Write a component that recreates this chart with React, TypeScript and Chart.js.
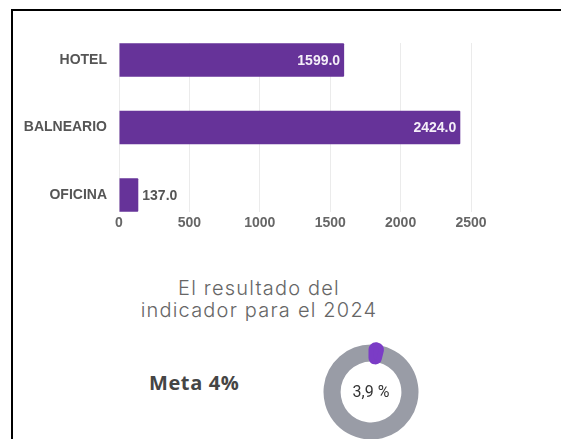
import React, { useEffect, useRef } from "react";
import { Chart, registerables } from "chart.js";

Chart.register(...registerables);

// ---- data ----
const categories = ["HOTEL", "BALNEARIO", "OFICINA"];
const values = [1599.0, 2424.0, 137.0];
const xTickValues = [0, 500, 1000, 1500, 2000, 2500];
const donutLabels = ["Resultado 2024", "Restante"];
const donutValues = [3.9, 96.1];
const resultLabel = "3,9 %";
const goalLabel = "Meta 4%";
const titleLines = ["El resultado del", "indicador para el 2024"];

const BAR_COLOR = "#663399";
const DOT_COLOR = "#7b3cc6";
const RING_COLOR = "#999ca6";
const LABEL_FONT = "'Liberation Sans', Arial, sans-serif";

const valueLabelPlugin = {
  id: "valueLabels",
  afterDatasetsDraw(chart: any) {
    const ctx = chart.ctx;
    const meta = chart.getDatasetMeta(0);
    ctx.save();
    ctx.font = `bold 14px ${LABEL_FONT}`;
    ctx.textBaseline = "middle";
    meta.data.forEach((bar: any, i: number) => {
      const text = values[i].toFixed(1);
      const w = ctx.measureText(text).width;
      const barLen = bar.x - bar.base;
      if (barLen > w + 10) {
        ctx.fillStyle = "#f4eef8";
        ctx.textAlign = "right";
        ctx.fillText(text, bar.x - 4, bar.y + 1);
      } else {
        ctx.fillStyle = "#555555";
        ctx.textAlign = "left";
        ctx.fillText(text, bar.x + 4, bar.y + 1);
      }
    });
    ctx.restore();
  },
};

function BarChart() {
  const ref = useRef<HTMLCanvasElement>(null);
  useEffect(() => {
    if (!ref.current) return;
    const chart = new Chart(ref.current, {
      type: "bar",
      data: {
        datasets: [
          {
            data: categories.map((c, i) => ({ x: values[i], y: i })),
            backgroundColor: BAR_COLOR,
            borderWidth: 0,
            borderRadius: 1,
            categoryPercentage: 0.5,
            barPercentage: 0.99,
          },
        ],
      },
      options: {
        indexAxis: "y",
        responsive: false,
        animation: false,
        layout: { padding: { top: 43, right: 90, bottom: 8, left: 0 } },
        plugins: { legend: { display: false }, tooltip: { enabled: false } },
        scales: {
          x: {
            type: "linear",
            min: 0,
            max: 2500,
            afterBuildTicks: (scale: any) => {
              scale.ticks = xTickValues.map((v) => ({ value: v }));
            },
            afterFit: (scale: any) => {
              scale.height = 20;
            },
            grid: { color: "#ebebeb", lineWidth: 1, drawTicks: false },
            border: { display: false },
            ticks: {
              padding: 3,
              color: "#666666",
              font: { family: LABEL_FONT, size: 14, weight: "bold" },
              callback: (v: any) => String(v),
            },
          },
          y: {
            type: "linear",
            min: -0.25,
            max: 2.25,
            reverse: true,
            offset: false,
            afterBuildTicks: (scale: any) => {
              scale.ticks = categories.map((c, i) => ({ value: i }));
            },
            afterFit: (scale: any) => {
              scale.width = 119;
            },
            grid: { display: false, drawTicks: false, offset: false },
            border: { display: false },
            ticks: {
              padding: 12,
              autoSkip: false,
              color: "#555555",
              font: { family: LABEL_FONT, size: 14, weight: "bold" },
              callback: (v: any) => categories[v] ?? "",
            },
          },
        },
      },
      plugins: [valueLabelPlugin],
    } as any);
    return () => chart.destroy();
  }, []);
  return (
    <canvas
      ref={ref}
      width={561}
      height={240}
      style={{ position: "absolute", left: 0, top: 0, width: 561, height: 240 }}
    />
  );
}

function DonutChart() {
  const ref = useRef<HTMLCanvasElement>(null);
  useEffect(() => {
    if (!ref.current) return;
    const total = donutValues.reduce((a, b) => a + b, 0);
    // remaining part first, result drawn last (on top), starting at 12 o'clock
    const chart = new Chart(ref.current, {
      type: "doughnut",
      data: {
        labels: [donutLabels[1], donutLabels[0]],
        datasets: [
          {
            data: [donutValues[1], donutValues[0]],
            backgroundColor: [RING_COLOR, DOT_COLOR],
            borderColor: [RING_COLOR, DOT_COLOR],
            borderWidth: [0, 5],
            borderJoinStyle: "round",
            borderRadius: [0, 8],
          },
        ],
      },
      options: {
        responsive: false,
        animation: false,
        rotation: (donutValues[0] / total) * 360,
        cutout: "64%",
        plugins: { legend: { display: false }, tooltip: { enabled: false } },
      },
    } as any);
    return () => chart.destroy();
  }, []);
  return (
    <canvas
      ref={ref}
      width={100}
      height={100}
      style={{ position: "absolute", left: 321, top: 342, width: 100, height: 100 }}
    />
  );
}

export default function App() {
  useEffect(() => {
    document.documentElement.style.overflow = "hidden";
    document.body.style.overflow = "hidden";
  }, []);
  return (
    <div
      style={{
        position: "fixed",
        left: 0,
        top: 0,
        width: 561,
        height: 439,
        overflow: "hidden",
        background: "#ffffff",
      }}
    >
      <div
        style={{
          position: "absolute",
          left: 11,
          top: 9,
          width: 560,
          height: 440,
          borderTop: "2px solid #000",
          borderLeft: "2px solid #000",
          background: "#ffffff",
        }}
      />
      <BarChart />
      <div
        style={{
          position: "absolute",
          left: 60,
          width: 398,
          top: 277,
          textAlign: "center",
          fontFamily: "Inter, 'Open Sans', sans-serif",
          fontWeight: 300,
          fontSize: 20,
          letterSpacing: "1.2px",
          lineHeight: "22px",
          color: "#666666",
        }}
      >
        {titleLines.map((l) => (
          <div key={l}>{l}</div>
        ))}
      </div>
      <div
        style={{
          position: "absolute",
          left: 149,
          top: 369,
          fontFamily: "'Open Sans', Inter, sans-serif",
          fontWeight: 700,
          fontSize: 20,
          letterSpacing: "0.6px",
          lineHeight: "28px",
          color: "#454545",
        }}
      >
        {goalLabel}
      </div>
      <DonutChart />
      <div
        style={{
          position: "absolute",
          left: 331,
          width: 80,
          top: 382,
          textAlign: "center",
          fontFamily: "Roboto, 'Open Sans', sans-serif",
          fontSize: 16,
          lineHeight: "20px",
          color: "#333333",
        }}
      >
        {resultLabel}
      </div>
    </div>
  );
}
